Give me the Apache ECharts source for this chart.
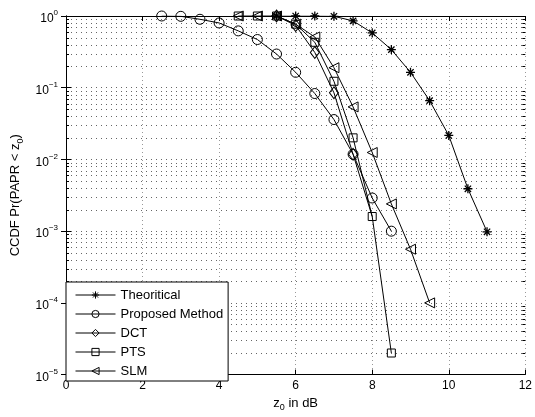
<!DOCTYPE html>
<html>
<head>
<meta charset="utf-8">
<script src="https://cdn.jsdelivr.net/npm/echarts@6/dist/echarts.min.js"></script>
<style>
html,body{margin:0;padding:0;background:#fff;}
#main{width:535px;height:417px;}
</style>
</head>
<body>
<div id="main"></div>
<script>
// values (x in dB, y = CCDF)
var theoX = [5.5, 6, 6.5, 7, 7.5, 8, 8.5, 9, 9.5, 10, 10.5, 11];
var theoY = [1, 1, 1, 0.99, 0.855, 0.58, 0.34, 0.164, 0.066, 0.0216, 0.0039, 0.00098];
var propX = [2.5, 3, 3.5, 4, 4.5, 5, 5.5, 6, 6.5, 7, 7.5, 8, 8.5];
var propY = [1, 0.99, 0.9, 0.8, 0.62, 0.47, 0.295, 0.164, 0.083, 0.036, 0.0118, 0.0029, 0.001];
var dctX = [5.5, 6, 6.5, 7, 7.5, 8];
var dctY = [1, 0.74, 0.31, 0.085, 0.0118, 0.0016];
var ptsX = [4.5, 5, 5.5, 6, 6.5, 7, 7.5, 8, 8.5];
var ptsY = [1, 1, 1, 0.77, 0.43, 0.123, 0.02, 0.0016, 0.00002];
var slmX = [4.5, 5, 5.5, 6, 6.5, 7, 7.5, 8, 8.5, 9, 9.5];
var slmY = [1, 1, 1, 0.77, 0.51, 0.19, 0.054, 0.0125, 0.0024, 0.00056, 0.0001];

var names = ['Theoritical', 'Proposed Method', 'DCT', 'PTS', 'SLM'];

// minor grid positions of the log axis (2..9 x each decade)
var minorY = [];
for (var e = -5; e < 0; e++) {
    for (var m = 2; m <= 9; m++) minorY.push([0, m * Math.pow(10, e)]);
}

function pairs(xs, ys) {
    return xs.map(function (x, i) { return [x, ys[i]]; });
}

var font = 'Liberation Sans, Arial, sans-serif';
var star = 'path://M0 5L10 5M5 0L5 10M1.5 1.5L8.5 8.5M8.5 1.5L1.5 8.5';

function series(name, data, symbol, size, rotate) {
    return {
        name: name,
        type: 'line',
        data: data,
        symbol: symbol,
        symbolSize: size,
        symbolRotate: rotate || 0,
        showAllSymbol: true,
        lineStyle: {color: '#000', width: 1},
        itemStyle: {color: 'rgba(0,0,0,0)', borderColor: '#000', borderWidth: 1},
        z: 5
    };
}

var dctData = pairs(dctX, dctY);
dctData[dctData.length - 1] = {value: dctData[dctData.length - 1], symbol: 'none'};

var myChart = echarts.init(document.getElementById('main'));
var option = {
    animation: false,
    textStyle: {fontFamily: font, color: '#000'},
    grid: {left: 66, right: 6, top: 16, bottom: 36},
    legend: {
        data: names,
        orient: 'vertical',
        left: 66,
        top: 282,
        padding: [6, 5, 3, 9],
        itemWidth: 40,
        itemHeight: 9,
        itemGap: 5,
        backgroundColor: '#fff',
        borderColor: '#000',
        borderWidth: 1,
        lineStyle: {width: 1, color: '#000'},
        itemStyle: {borderWidth: 1},
        textStyle: {fontFamily: font, fontSize: 13, color: '#000', lineHeight: 14, padding: [0, 0, 0, 0]}
    },
    xAxis: [{
        type: 'value',
        min: 0, max: 12, interval: 2,
        name: '{a|z}{s|0}{a| in dB}',
        nameLocation: 'middle',
        nameGap: 18,
        nameTextStyle: {
            rich: {
                a: {fontFamily: font, fontSize: 13, color: '#000'},
                s: {fontFamily: font, fontSize: 9, color: '#000', padding: [9, 0, 0, 0]}
            }
        },
        axisLine: {lineStyle: {color: '#000'}},
        axisTick: {inside: true, length: 5, lineStyle: {color: '#000'}},
        axisLabel: {fontFamily: font, fontSize: 12, color: '#000', margin: 5},
        splitLine: {show: true, lineStyle: {color: '#999', type: [1, 3]}}
    }, {
        type: 'value',
        position: 'top',
        min: 0, max: 12, interval: 2,
        axisLine: {show: true, lineStyle: {color: '#000'}},
        axisTick: {show: true, inside: true, length: 5, lineStyle: {color: '#000'}},
        axisLabel: {show: false},
        splitLine: {show: false}
    }],
    yAxis: [{
        type: 'log',
        logBase: 10,
        min: 1e-5, max: 1,
        name: '{a|CCDF Pr(PAPR < z}{s|0}{a|)}',
        nameLocation: 'middle',
        nameGap: 40,
        nameRotate: 90,
        nameTextStyle: {
            rich: {
                a: {fontFamily: font, fontSize: 13, color: '#000'},
                s: {fontFamily: font, fontSize: 9, color: '#000', padding: [9, 0, 0, 0]}
            }
        },
        axisLine: {show: true, lineStyle: {color: '#000'}},
        axisTick: {show: true, inside: true, length: 5, lineStyle: {color: '#000'}},
        axisLabel: {
            margin: 8,
            formatter: function (v) {
                var p = Math.round(Math.log10(v));
                return '{b|10}{s|' + (p < 0 ? '\u2212' + (-p) : p) + '}';
            },
            rich: {
                b: {fontFamily: font, fontSize: 12, color: '#000', padding: [6, 0, 0, 0]},
                s: {fontFamily: font, fontSize: 8, color: '#000', padding: [0, 0, 6, 0]}
            }
        },
        splitLine: {show: true, lineStyle: {color: '#666', type: [1, 4]}}
    }, {
        type: 'log',
        logBase: 10,
        position: 'right',
        min: 1e-5, max: 1,
        axisLine: {show: true, lineStyle: {color: '#000'}},
        axisTick: {show: true, inside: true, length: 5, lineStyle: {color: '#000'}},
        axisLabel: {show: false},
        splitLine: {show: false}
    }],
    series: [
        {
            name: 'minor',
            type: 'custom',
            silent: true,
            z: 1,
            data: minorY,
            clip: false,
            renderItem: function (params, api) {
                var cs = params.coordSys;
                var y = Math.round(api.coord([0, api.value(1)])[1]) + 0.5;
                return {
                    type: 'group',
                    children: [
                        {type: 'line', shape: {x1: cs.x, y1: y, x2: cs.x + cs.width, y2: y},
                         style: {stroke: '#666', lineWidth: 1, lineDash: [1, 4]}},
                        {type: 'line', shape: {x1: cs.x, y1: y, x2: cs.x + 3, y2: y},
                         style: {stroke: '#000', lineWidth: 1}},
                        {type: 'line', shape: {x1: cs.x + cs.width - 3, y1: y, x2: cs.x + cs.width, y2: y},
                         style: {stroke: '#000', lineWidth: 1}}
                    ]
                };
            }
        },
        (function () {
            var s = series('Theoritical', pairs(theoX, theoY), star, 9);
            s.itemStyle = {color: 'rgba(0,0,0,0)', borderColor: '#000', borderWidth: 1.3};
            return s;
        })(),
        series('Proposed Method', pairs(propX, propY), 'circle', 10),
        series('DCT', dctData, 'diamond', [9, 12]),
        series('PTS', pairs(ptsX, ptsY), 'rect', 8),
        series('SLM', pairs(slmX, slmY), 'triangle', 10, 90)
    ]
};
myChart.setOption(option);
</script>
</body>
</html>
